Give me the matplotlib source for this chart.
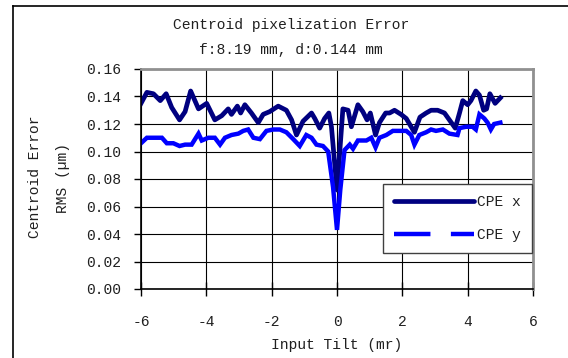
import numpy as np
import matplotlib
matplotlib.use("Agg")
import matplotlib.pyplot as plt
from matplotlib.lines import Line2D

# CPE x (navy)
tilt_x = [-6.00, -5.82, -5.62, -5.41, -5.23, -5.06, -4.82, -4.65, -4.48, -4.24,
          -3.99, -3.74, -3.53, -3.33, -3.23, -3.05, -2.95, -2.82, -2.62, -2.41,
          -2.26, -2.06, -1.80, -1.55, -1.39, -1.24, -1.04, -0.78, -0.68, -0.53,
          -0.38, -0.25, -0.17, 0.00, 0.18, 0.34, 0.44, 0.64, 0.79, 0.92,
          1.02, 1.18, 1.30, 1.49, 1.61, 1.76, 1.96, 2.12, 2.37, 2.54,
          2.73, 2.88, 3.08, 3.29, 3.44, 3.62, 3.75, 3.85, 4.00, 4.10,
          4.25, 4.36, 4.49, 4.58, 4.68, 4.84, 5.00]
cpe_x = [0.135, 0.143, 0.142, 0.137, 0.142, 0.132, 0.123, 0.129, 0.144, 0.131,
         0.135, 0.123, 0.126, 0.131, 0.127, 0.133, 0.128, 0.134, 0.128, 0.121,
         0.127, 0.129, 0.133, 0.130, 0.123, 0.112, 0.122, 0.128, 0.124, 0.117,
         0.124, 0.128, 0.118, 0.072, 0.131, 0.130, 0.118, 0.134, 0.129, 0.123,
         0.128, 0.112, 0.121, 0.128, 0.128, 0.130, 0.127, 0.124, 0.114, 0.125,
         0.128, 0.130, 0.130, 0.128, 0.123, 0.117, 0.128, 0.137, 0.134, 0.137,
         0.144, 0.141, 0.130, 0.131, 0.142, 0.135, 0.139]

# CPE y (blue)
tilt_y = [-6.00, -5.82, -5.62, -5.36, -5.21, -5.01, -4.82, -4.65, -4.45, -4.24,
          -4.14, -3.94, -3.74, -3.58, -3.43, -3.23, -3.02, -2.87, -2.72, -2.56,
          -2.36, -2.16, -1.95, -1.75, -1.55, -1.34, -1.14, -0.94, -0.78, -0.63,
          -0.43, -0.27, -0.12, 0.00, 0.10, 0.23, 0.39, 0.49, 0.64, 0.90,
          1.05, 1.18, 1.30, 1.51, 1.71, 1.91, 2.12, 2.27, 2.37, 2.52,
          2.73, 2.88, 3.03, 3.24, 3.44, 3.69, 3.75, 3.95, 4.15, 4.25,
          4.36, 4.51, 4.61, 4.71, 4.81, 5.00]
cpe_y = [0.106, 0.110, 0.110, 0.110, 0.106, 0.106, 0.104, 0.105, 0.105, 0.113,
         0.108, 0.110, 0.110, 0.105, 0.110, 0.112, 0.113, 0.115, 0.116, 0.110,
         0.109, 0.115, 0.116, 0.116, 0.114, 0.109, 0.104, 0.112, 0.110, 0.105,
         0.104, 0.100, 0.074, 0.043, 0.072, 0.101, 0.105, 0.102, 0.108, 0.108,
         0.110, 0.103, 0.110, 0.112, 0.115, 0.115, 0.115, 0.112, 0.105, 0.112,
         0.114, 0.116, 0.115, 0.116, 0.113, 0.112, 0.117, 0.118, 0.118, 0.116,
         0.127, 0.124, 0.121, 0.116, 0.120, 0.121]

xticks = [-6, -4, -2, 0, 2, 4, 6]
yticks = [0.00, 0.02, 0.04, 0.06, 0.08, 0.10, 0.12, 0.14, 0.16]

navy = "#000080"
blue = "#0000ff"
font = "Liberation Mono"
plt.rcParams["font.family"] = font
txtcol = "#202020"

fig = plt.figure(figsize=(5.68, 3.58), dpi=100)
ax = fig.add_axes([141 / 568, 1 - 289 / 358, (533 - 141) / 568, (289 - 69) / 358])

ax.plot(tilt_x, cpe_x, color=navy, lw=3.4, solid_joinstyle="round")
ax.plot(tilt_y, cpe_y, color=blue, lw=3.2, solid_joinstyle="miter")

ax.set_xlim(-6, 6)
ax.set_ylim(0, 0.16)
ax.set_xticks(xticks)
ax.set_yticks(yticks)
ax.set_xticklabels([str(t) for t in xticks], fontsize=10.5, color=txtcol)
ax.set_yticklabels(["%.2f" % t for t in yticks], fontsize=10.5, color=txtcol)
ax.grid(True, color="black", lw=0.8)
ax.set_axisbelow(True)
ax.tick_params(axis="y", direction="out", length=5, width=1, pad=9)
ax.tick_params(axis="x", direction="inout", length=10, width=1, pad=14)
for side in ["left", "bottom"]:
    ax.spines[side].set_color("black")
    ax.spines[side].set_linewidth(1.2)
for side in ["top", "right"]:
    ax.spines[side].set_color("#909090")
    ax.spines[side].set_linewidth(2)

ax.set_xlabel("Input Tilt (mr)", fontsize=10.5, labelpad=6, color=txtcol)

fig.text(35 / 568, 1 - 177 / 358, "Centroid Error", rotation=90,
         ha="center", va="center", fontsize=10.5, color=txtcol)
fig.text(63 / 568, 1 - 178 / 358, "RMS (\u00b5m)", rotation=90,
         ha="center", va="center", fontsize=10.5, color=txtcol)

fig.text(291 / 568, 1 - 25 / 358, "Centroid pixelization Error",
         ha="center", va="center", fontsize=10.5, color=txtcol)
fig.text(291 / 568, 1 - 50 / 358, "f:8.19 mm, d:0.144 mm",
         ha="center", va="center", fontsize=10.5, color=txtcol)

handles = [Line2D([], [], color=navy, lw=3.4, solid_capstyle="round"),
           Line2D([], [], color=blue, lw=3.2, dashes=(8.2, 4.6), dash_capstyle="butt")]
leg = ax.legend(handles, ["CPE x", "CPE y"], loc="center",
                bbox_to_anchor=(457.5 / 568, 1 - 218.5 / 358),
                bbox_transform=fig.transFigure, fontsize=10.5,
                handlelength=5.5, handletextpad=0.2, borderpad=0.75,
                labelspacing=1.25, fancybox=False, framealpha=1,
                borderaxespad=0)
leg.get_frame().set_edgecolor("#404040")
leg.get_frame().set_linewidth(1)
for t in leg.get_texts():
    t.set_color(txtcol)

# chart-area border (left and top edges visible)
fig.add_artist(Line2D([13 / 568, 13 / 568], [0, 1 - 6 / 358], color="black", lw=1.2,
                      transform=fig.transFigure))
fig.add_artist(Line2D([13 / 568, 1], [1 - 6 / 358, 1 - 6 / 358], color="black", lw=1.2,
                      transform=fig.transFigure))

fig.savefig("out.png", dpi=100)
